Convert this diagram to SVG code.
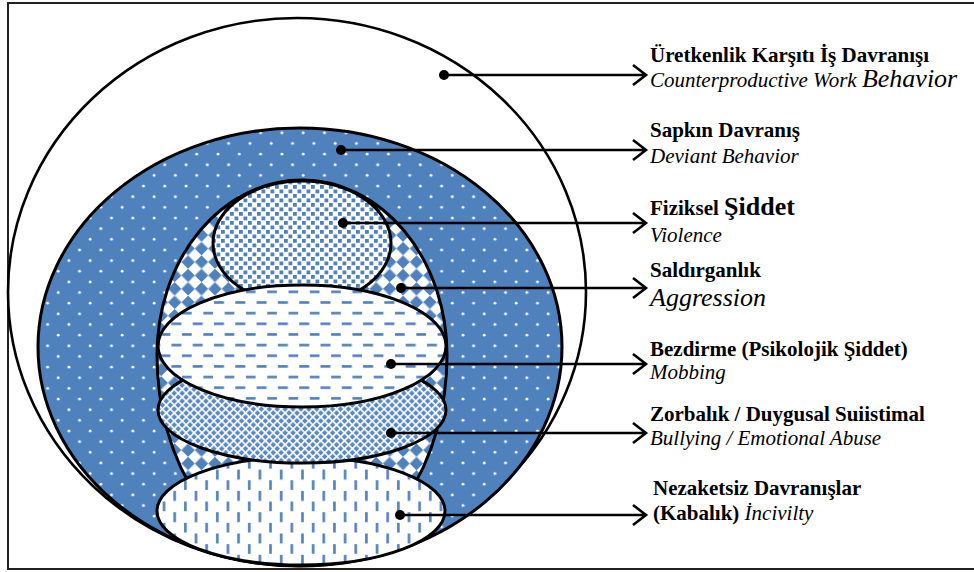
<svg xmlns="http://www.w3.org/2000/svg" width="974" height="572" viewBox="0 0 974 572">
<style>
.o{stroke:#000;stroke-width:3;}
.c{stroke:#000;stroke-width:2.6;fill:none;}
.d{fill:#000;}
text{font-family:"Liberation Serif","Times New Roman",serif;font-size:21px;fill:#000;}
.b{font-weight:bold;}
.i{font-style:italic;}
.big{font-size:26px;}
</style>
<defs>
<pattern id="pDots" width="21.3" height="21.3" patternUnits="userSpaceOnUse">
<rect width="21.3" height="21.3" fill="#4F81BD"/>
<circle cx="5" cy="5" r="1.4" fill="#fff"/>
<circle cx="15.65" cy="15.65" r="1.4" fill="#fff"/>
</pattern>
<pattern id="pConf" width="9" height="9" patternUnits="userSpaceOnUse">
<rect width="9" height="9" fill="#fff"/>
<rect x="0.5" y="0.5" width="3.8" height="3.8" fill="#4F81BD"/>
<rect x="5" y="5" width="3.8" height="3.8" fill="#4F81BD"/>
</pattern>
<pattern id="pCheck" width="19" height="19" patternUnits="userSpaceOnUse" patternTransform="rotate(45)">
<rect width="19" height="19" fill="#fff"/>
<rect width="9.5" height="9.5" fill="#4F81BD"/>
<rect x="9.5" y="9.5" width="9.5" height="9.5" fill="#4F81BD"/>
</pattern>
<pattern id="pHDash" width="21.3" height="21.3" patternUnits="userSpaceOnUse">
<rect width="21.3" height="21.3" fill="#fff"/>
<rect x="1" y="3" width="10" height="2.6" fill="#4F81BD"/>
<rect x="11.65" y="13.65" width="10" height="2.6" fill="#4F81BD"/>
</pattern>
<pattern id="pGrid" width="5.6" height="5.6" patternUnits="userSpaceOnUse" patternTransform="rotate(45)">
<rect width="5.6" height="5.6" fill="#5B8AC3"/>
<rect width="1.6" height="5.6" fill="#fff"/>
<rect width="5.6" height="1.6" fill="#fff"/>
</pattern>
<pattern id="pVDash" width="21.3" height="21.3" patternUnits="userSpaceOnUse">
<rect width="21.3" height="21.3" fill="#fff"/>
<rect x="3" y="1" width="2.6" height="10" fill="#4F81BD"/>
<rect x="13.65" y="11.65" width="2.6" height="10" fill="#4F81BD"/>
</pattern>
</defs>
<rect x="8" y="3" width="975" height="566" fill="#fff" stroke="#222" stroke-width="2"/>
<g id="cwb"><ellipse cx="297" cy="292" rx="289" ry="274" fill="#fff" stroke="#000" stroke-width="2.6"/></g>
<g id="deviant"><ellipse cx="300" cy="347" rx="262" ry="219" fill="url(#pDots)" class="o"/></g>
<g id="aggression"><path d="M157,355 A145,175 0 0 1 447,355 A145,205 0 0 1 157,355 Z" fill="url(#pCheck)" class="o"/></g>
<g id="violence"><ellipse cx="302" cy="243" rx="89" ry="62" fill="url(#pConf)" class="o"/></g>
<g id="incivility"><ellipse cx="301" cy="511" rx="144" ry="54" fill="url(#pVDash)" class="o"/></g>
<g id="bullying"><ellipse cx="302" cy="410" rx="144" ry="53" fill="url(#pGrid)" class="o"/></g>
<g id="mobbing"><ellipse cx="302" cy="346" rx="144" ry="61" fill="url(#pHDash)" class="o"/></g>
<g id="connectors">
<circle class="d" cx="444" cy="75" r="5"/><path class="c" d="M444,75 H646 M633,65 L646,75 L633,85"/>
<circle class="d" cx="341" cy="150" r="5"/><path class="c" d="M341,150 H646 M633,140 L646,150 L633,160"/>
<circle class="d" cx="343" cy="223" r="5"/><path class="c" d="M343,223 H646 M633,213 L646,223 L633,233"/>
<circle class="d" cx="401" cy="288" r="5"/><path class="c" d="M401,288 H646 M633,278 L646,288 L633,298"/>
<circle class="d" cx="391" cy="364" r="5"/><path class="c" d="M391,364 H646 M633,354 L646,364 L633,374"/>
<circle class="d" cx="391" cy="433" r="5"/><path class="c" d="M391,433 H646 M633,423 L646,433 L633,443"/>
<circle class="d" cx="400" cy="515" r="5"/><path class="c" d="M400,515 H646 M633,505 L646,515 L633,525"/>
</g>
<g id="labels">
<text class="b" x="650" y="62">Üretkenlik Karşıtı İş Davranışı</text>
<text class="i" x="650" y="87">Counterproductive Work <tspan class="big">Behavior</tspan></text>
<text class="b" x="650" y="137">Sapkın Davranış</text>
<text class="i" x="650" y="163">Deviant Behavior</text>
<text class="b" x="650" y="215">Fiziksel <tspan class="big">Şiddet</tspan></text>
<text class="i" x="650" y="242">Violence</text>
<text class="b" x="650" y="277">Saldırganlık</text>
<text class="i big" x="650" y="306">Aggression</text>
<text class="b" x="650" y="356">Bezdirme (Psikolojik Şiddet)</text>
<text class="i" x="650" y="379">Mobbing</text>
<text class="b" x="650" y="421">Zorbalık / Duygusal Suiistimal</text>
<text class="i" x="650" y="445">Bullying / Emotional Abuse</text>
<text class="b" x="653" y="495">Nezaketsiz Davranışlar</text>
<text x="653" y="520"><tspan class="b">(Kabalık)</tspan> <tspan class="i">İncivilty</tspan></text>
</g>
</svg>
